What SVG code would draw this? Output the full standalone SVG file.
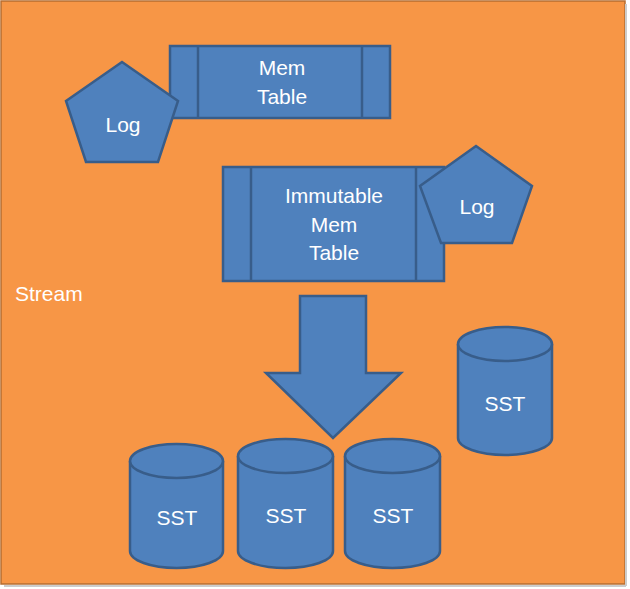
<svg xmlns="http://www.w3.org/2000/svg" width="630" height="589" viewBox="0 0 630 589">
<style>
.s{fill:#4F81BD;stroke:#385D8A;stroke-width:2.5}
.l{fill:none;stroke:#385D8A;stroke-width:2.5}
text{font-family:"Liberation Sans",Arial,sans-serif;font-size:21px;fill:#fff;text-anchor:middle}
</style>
<rect x="1" y="1" width="624" height="583" fill="#F79646" stroke="#B66D31" stroke-width="1.5"/>
<line x1="626" y1="4" x2="626" y2="586" stroke="#ccc" stroke-width="2"/>
<line x1="4" y1="586" x2="626" y2="586" stroke="#ccc" stroke-width="2"/>
<text x="15" y="301" style="text-anchor:start">Stream</text>
<g id="memtable"><rect class="s" x="170" y="46" width="220" height="72"/><line class="l" x1="198" y1="46" x2="198" y2="118"/><line class="l" x1="362" y1="46" x2="362" y2="118"/><text x="282" y="75">Mem</text><text x="282" y="104">Table</text></g>
<g id="log1"><polygon class="s" points="122,62 178,101 158,162 86,162 66,101"/><text x="123" y="132">Log</text></g>
<g id="immutable"><rect class="s" x="223" y="167" width="221" height="114"/><line class="l" x1="251" y1="167" x2="251" y2="281"/><line class="l" x1="416" y1="167" x2="416" y2="281"/><text x="334" y="203">Immutable</text><text x="334" y="232">Mem</text><text x="334" y="260">Table</text></g>
<g id="log2"><polygon class="s" points="476,146 532,186 512,243 441,243 420,186"/><text x="477" y="214">Log</text></g>
<g id="connectors"><polygon class="s" points="300,296 366,296 366,373 401,373 333,438 266,373 300,373"/></g>
<g id="sst1"><path class="s" d="M130,461 V551 A46.5,17 0 0 0 223,551 V461"/><ellipse class="s" cx="176.5" cy="461" rx="46.5" ry="17"/><text x="177" y="525">SST</text></g>
<g id="sst2"><path class="s" d="M238,456 V551 A47.5,17 0 0 0 333,551 V456"/><ellipse class="s" cx="285.5" cy="456" rx="47.5" ry="17"/><text x="286" y="523">SST</text></g>
<g id="sst3"><path class="s" d="M345,456 V551 A47.5,17 0 0 0 440,551 V456"/><ellipse class="s" cx="392.5" cy="456" rx="47.5" ry="17"/><text x="393" y="523">SST</text></g>
<g id="sst4"><path class="s" d="M458,344 V438 A47,17 0 0 0 552,438 V344"/><ellipse class="s" cx="505" cy="344" rx="47" ry="17"/><text x="505" y="411">SST</text></g>
</svg>
